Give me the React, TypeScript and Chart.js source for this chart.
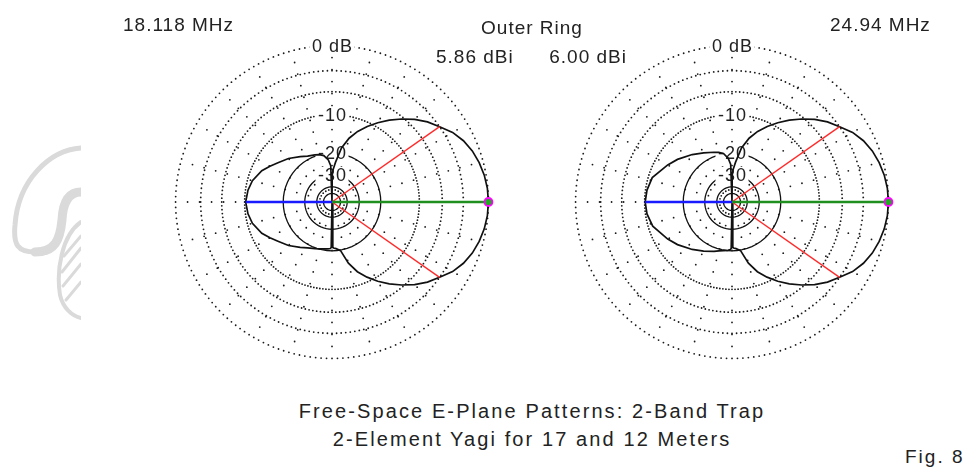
import React, { useEffect, useRef } from 'react';
import { Chart, registerables } from 'chart.js';
Chart.register(...registerables);

// ---------- data ----------
const ringDb = [0, -3, -6, -10, -20, -30, -40, -50];
const ringLabels = ['0 dB', '', '', '-10', '-20', '-30', '', ''];
const spokeAngles = [0, 15, 30, 45, 60, 75, 90, 105, 120, 135, 150, 165, 180, 195, 210, 225, 240, 255, 270, 285, 300, 315, 330, 345];

const freqLeft = '18.118 MHz';
const freqRight = '24.94 MHz';
const gainLeft = '5.86 dBi';
const gainRight = '6.00 dBi';
const ringCaption = 'Outer Ring';
const titleLines = ['Free-Space E-Plane Patterns: 2-Band Trap', '2-Element Yagi for 17 and 12 Meters'];
const figLabel = 'Fig. 8';

// 18.118 MHz pattern (angle deg CCW from forward, dB relative to max)
const anglesLeft = [0, 5, 10, 15, 20, 25, 30, 35, 40, 45, 50, 55, 60, 65, 70, 75, 80, 85, 88, 89.5, 90, 92, 95, 100, 105, 110, 118, 125, 135, 144, 150, 156, 165, 172, 180, 188, 195, 204, 210, 216, 225, 235, 242, 250, 255, 260, 265, 268, 269, 270, 271, 272, 275, 280, 285, 290, 295, 300, 305, 310, 315, 320, 325, 330, 335, 340, 345, 350, 355, 360];
const dbLeft = [0, -0.05, -0.2, -0.45, -0.8, -1.3, -2.0, -3.0, -3.9, -5.0, -6.3, -7.7, -9.2, -10.8, -12.6, -14.8, -18.0, -23.5, -27, -30, -99, -25, -22.5, -20.6, -19.9, -19.5, -18.9, -17.8, -16.0, -14.6, -13.4, -12.2, -11.0, -10.5, -10.2, -10.5, -11.0, -12.2, -13.4, -14.6, -16.0, -17.8, -18.9, -19.7, -20.1, -20.4, -20.6, -20.8, -21.2, -99, -21.2, -21.0, -20.7, -19.8, -15.5, -12.8, -10.9, -9.2, -7.7, -6.3, -5.0, -3.9, -3.0, -2.0, -1.3, -0.8, -0.45, -0.2, -0.05, 0];

// 24.94 MHz pattern
const anglesRight = [0, 5, 10, 15, 20, 25, 30, 35, 40, 45, 50, 55, 60, 65, 70, 75, 80, 85, 88, 89.5, 90, 92, 95, 100, 105, 110, 120, 130, 142, 150, 163, 172, 180, 188, 197, 210, 218, 230, 240, 250, 255, 260, 265, 268, 269, 270, 271, 272, 275, 280, 285, 290, 295, 300, 305, 310, 315, 320, 325, 330, 335, 340, 345, 350, 355, 360];
const dbRight = [0, -0.05, -0.2, -0.45, -0.8, -1.3, -2.0, -3.0, -3.9, -5.0, -6.3, -7.7, -9.2, -10.8, -12.6, -14.8, -18.0, -23.5, -27, -30, -99, -24.5, -21.8, -19.8, -19.1, -18.6, -17.4, -15.9, -14.0, -12.8, -10.8, -10.3, -10.1, -10.3, -10.9, -12.8, -14.0, -15.9, -17.4, -18.7, -19.4, -19.8, -20.1, -20.4, -20.8, -99, -21.2, -21.0, -20.7, -19.8, -15.5, -12.8, -10.9, -9.2, -7.7, -6.3, -5.0, -3.9, -3.0, -2.0, -1.3, -0.8, -0.45, -0.2, -0.05, 0];

// half-power (-3 dB) points, forward and back directions
const halfPowerAnglesLeft = [35, 325];
const halfPowerDbLeft = [-3.0, -3.0];
const halfPowerAnglesRight = [35, 325];
const halfPowerDbRight = [-3.0, -3.0];
const frontAngle = 0;
const backAngle = 180;
const frontDbLeft = 0;
const backDbLeft = -10.2;
const frontDbRight = 0;
const backDbRight = -10.1;

// ---------- helpers ----------
const arrl = (db: number) => Math.pow(0.89, -db / 2);
const polar = (deg: number, db: number) => {
  const r = arrl(db);
  const a = (deg * Math.PI) / 180;
  return { x: r * Math.cos(a), y: r * Math.sin(a) };
};

const FONT = '"Liberation Sans", Arial, sans-serif';
const TEXT = '#222';
const DOT = '#1a1a1a';
const SOLID_RING_BELOW = -15;
const SPAN = 1.12;
const SIZE = 362;

const gridPlugin = {
  id: 'arrlGrid',
  beforeDatasetsDraw(chart: any) {
    const { ctx } = chart;
    const xs = chart.scales.x;
    const ys = chart.scales.y;
    const px = (r: number, deg: number) => {
      const a = (deg * Math.PI) / 180;
      return [xs.getPixelForValue(r * Math.cos(a)), ys.getPixelForValue(r * Math.sin(a))];
    };
    const unitPx = xs.getPixelForValue(1) - xs.getPixelForValue(0);
    const dot = (x: number, y: number) => {
      ctx.beginPath();
      ctx.arc(x, y, 0.9, 0, Math.PI * 2);
      ctx.fill();
    };
    ctx.save();
    ctx.fillStyle = DOT;
    ctx.strokeStyle = '#111';
    ctx.lineWidth = 1.3;
    ringDb.forEach((db) => {
      const r = arrl(db);
      if (db < SOLID_RING_BELOW) {
        ctx.beginPath();
        for (let a = 0; a <= 360; a += 6) {
          const [x, y] = px(r, a);
          if (a === 0) ctx.moveTo(x, y);
          else ctx.lineTo(x, y);
        }
        ctx.stroke();
        return;
      }
      for (let a = 0; a < 360; a += 2) {
        const [x, y] = px(r, a);
        dot(x, y);
      }
    });
    spokeAngles.forEach((deg) => {
      for (let d = unitPx - 12; d > 5; d -= 12) {
        const [x, y] = px(d / unitPx, deg);
        dot(x, y);
      }
    });
    ctx.font = `18px ${FONT}`;
    try { (ctx as any).letterSpacing = '1px'; } catch (e) {}
    ctx.textAlign = 'center';
    ctx.textBaseline = 'middle';
    ringDb.forEach((db, i) => {
      const label = ringLabels[i];
      if (!label) return;
      const [x, y] = px(arrl(db), 90);
      const w = ctx.measureText(label).width + 4;
      ctx.fillStyle = '#fff';
      ctx.fillRect(x - w / 2, y - 8, w, 16);
      ctx.fillStyle = TEXT;
      ctx.fillText(label, x + 0.5, y + 1);
    });
    ctx.restore();
  },
};

type PlotProps = {
  left: number;
  top: number;
  angles: number[];
  db: number[];
  hpAngles: number[];
  hpDb: number[];
  frontDb: number;
  backDb: number;
};

function PolarPlot(p: PlotProps) {
  const ref = useRef<HTMLCanvasElement>(null);
  useEffect(() => {
    if (!ref.current) return;
    const center = { x: 0, y: 0 };
    const front = polar(frontAngle, p.frontDb);
    const back = polar(backAngle, p.backDb);
    const pattern = p.angles.map((a, i) => polar(a, p.db[i]));
    const hpSets = p.hpAngles.map((a, i) => ({
      data: [center, polar(a, p.hpDb[i])],
      showLine: true,
      borderColor: '#ff2a2a',
      borderWidth: 1.4,
      pointRadius: 0,
    }));
    const chart = new Chart(ref.current, {
      type: 'scatter',
      data: {
        datasets: [
          {
            data: [front],
            pointRadius: 4,
            pointBorderColor: '#ff00ff',
            pointBackgroundColor: '#22aa22',
            pointBorderWidth: 1.8,
            showLine: false,
          } as any,
          { data: [center, front], showLine: true, borderColor: '#1f8f1f', borderWidth: 2.6, pointRadius: 0 },
          { data: [center, back], showLine: true, borderColor: '#1a1aff', borderWidth: 2.3, pointRadius: 0 },
          ...hpSets,
          { data: pattern, showLine: true, borderColor: '#111', borderWidth: 1.7, pointRadius: 0 },
        ],
      },
      options: {
        animation: false,
        responsive: false,
        maintainAspectRatio: false,
        layout: { padding: 0 },
        plugins: { legend: { display: false }, tooltip: { enabled: false }, title: { display: false } },
        elements: { line: { tension: 0 } },
        scales: {
          x: { type: 'linear', min: -SPAN, max: SPAN, display: false },
          y: { type: 'linear', min: -SPAN, max: SPAN, display: false },
        },
      },
      plugins: [gridPlugin],
    });
    return () => chart.destroy();
  }, []);
  return (
    <canvas
      ref={ref}
      width={SIZE}
      height={SIZE}
      style={{ position: 'absolute', left: p.left, top: p.top, width: SIZE, height: SIZE }}
    />
  );
}

function Label(props: { text: string; x: number; y: number; align?: 'left' | 'center' | 'right'; size?: number; ls?: number }) {
  const { text, x, y, align = 'left', size = 19, ls = 1 } = props;
  const w = 600;
  const left = align === 'left' ? x : align === 'center' ? x - w / 2 : x - w;
  return (
    <div
      style={{
        position: 'absolute',
        left,
        top: y - 12,
        width: w,
        height: 24,
        lineHeight: '24px',
        textAlign: align,
        fontFamily: FONT,
        fontSize: size,
        letterSpacing: ls,
        color: TEXT,
        whiteSpace: 'nowrap',
      }}
    >
      {text}
    </div>
  );
}

function Watermark() {
  return (
    <svg width={81} height={200} style={{ position: 'absolute', left: 0, top: 140 }} viewBox="0 140 81 200">
      <g fill="none" stroke="#dadada" strokeLinecap="round">
        <path d="M81,148 C50,150 18,180 15,225 C13,245 18,252 35,252" strokeWidth={5} />
        <path d="M35,252 C55,252 60,240 62,220 C63,200 70,192 81,192" strokeWidth={9} />
        <path d="M81,222 C62,235 56,270 60,295 C63,308 72,316 81,318" strokeWidth={4} />
        <path d="M66,300 L81,282 M63,286 L81,264 M62,272 L81,248 M64,256 L81,236" strokeWidth={3} />
      </g>
    </svg>
  );
}

export default function App() {
  const cxL = 332;
  const cxR = 732;
  const cy = 202;
  const half = SIZE / 2;
  return (
    <div style={{ position: 'absolute', left: 0, top: 0, width: 965, height: 469, background: '#fff', overflow: 'hidden' }}>
      <Watermark />
      <PolarPlot left={cxL - half} top={cy - half} angles={anglesLeft} db={dbLeft} hpAngles={halfPowerAnglesLeft} hpDb={halfPowerDbLeft} frontDb={frontDbLeft} backDb={backDbLeft} />
      <PolarPlot left={cxR - half} top={cy - half} angles={anglesRight} db={dbRight} hpAngles={halfPowerAnglesRight} hpDb={halfPowerDbRight} frontDb={frontDbRight} backDb={backDbRight} />
      <Label text={freqLeft} x={123} y={25} />
      <Label text={freqRight} x={830} y={25} />
      <Label text={ringCaption} x={532} y={28} align="center" />
      <Label text={gainLeft} x={436} y={57} />
      <Label text={gainRight} x={627} y={57} align="right" />
      <Label text={titleLines[0]} x={532} y={411} align="center" size={20} ls={2.1} />
      <Label text={titleLines[1]} x={532} y={439} align="center" size={20} ls={2.1} />
      <Label text={figLabel} x={905} y={457} ls={2} />
    </div>
  );
}
